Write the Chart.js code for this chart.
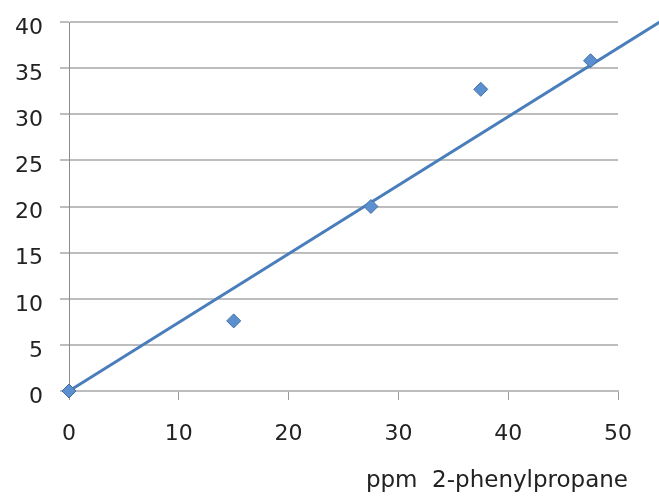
<!DOCTYPE html>
<html>
<head>
<meta charset="utf-8">
<script src="https://cdn.jsdelivr.net/npm/chart.js@4"></script>
<style>
  html, body { margin: 0; padding: 0; background: #fff; }
  #wrap { width: 659px; height: 498px; }
</style>
</head>
<body>
<div id="wrap"><canvas id="chart" width="659" height="498"></canvas></div>
<script>
// Data
const ppmValues = [0, 15, 27.5, 37.5, 47.5];
const signalValues = [0, 7.6, 20, 32.7, 35.8];
// Trendline end points (runs past the plot on the right)
const trendX = [0, 53.8];
const trendY = [0, 40];
const xTicks = [0, 10, 20, 30, 40, 50];
const yTicks = [0, 5, 10, 15, 20, 25, 30, 35, 40];
const xTitle = 'ppm  2-phenylpropane';

const blue = '#4a7ebb';
const gridGrey = '#bdbdbd';
const fontFamily = '"DejaVu Sans", sans-serif';

const points = ppmValues.map((x, i) => ({ x: x, y: signalValues[i] }));
const trend = trendX.map((x, i) => ({ x: x, y: trendY[i] }));

// x axis caption sits a little right of the plot's end, like the original
const axisCaption = {
  id: 'axisCaption',
  afterDraw(chart) {
    const ctx = chart.ctx;
    const xs = chart.scales.x;
    ctx.save();
    ctx.font = '23px ' + fontFamily;
    ctx.fillStyle = '#222';
    ctx.textAlign = 'right';
    ctx.textBaseline = 'alphabetic';
    ctx.fillText(xTitle, xs.right + 10, 487);
    ctx.restore();
  }
};

new Chart(document.getElementById('chart'), {
  type: 'scatter',
  data: {
    datasets: [{
      label: 'samples',
      data: points,
      pointStyle: 'rectRot',
      pointRadius: 7,
      pointHoverRadius: 7,
      backgroundColor: '#5b8fd0',
      borderColor: '#41709f',
      borderWidth: 1,
      clip: false,
      order: 1
    }, {
      label: 'trend',
      type: 'line',
      data: trend,
      showLine: true,
      pointRadius: 0,
      borderColor: blue,
      borderWidth: 3,
      fill: false,
      clip: false,
      order: 2
    }]
  },
  plugins: [axisCaption],
  options: {
    responsive: false,
    animation: false,
    layout: { padding: { top: 22, right: 41, left: 0, bottom: 0 } },
    plugins: {
      legend: { display: false },
      tooltip: { enabled: false }
    },
    scales: {
      x: {
        type: 'linear',
        min: 0,
        max: 50,
        afterBuildTicks: (axis) => { axis.ticks = xTicks.map(v => ({ value: v })); },
        afterFit: (axis) => {
          axis.height = 107;
          axis.paddingLeft = 0;
          axis.paddingRight = 0;
        },
        grid: {
          drawOnChartArea: false,
          drawTicks: true,
          tickLength: 9,
          color: '#9a9a9a',
          lineWidth: 1
        },
        border: { color: gridGrey, width: 2 },
        ticks: {
          padding: 21,
          color: '#222',
          font: { family: fontFamily, size: 22 }
        }
      },
      y: {
        type: 'linear',
        min: 0,
        max: 40,
        afterBuildTicks: (axis) => { axis.ticks = yTicks.map(v => ({ value: v })); },
        afterFit: (axis) => {
          axis.width = 69;
          axis.paddingTop = 0;
          axis.paddingBottom = 0;
        },
        grid: {
          color: gridGrey,
          lineWidth: 2,
          tickLength: 9
        },
        border: { color: '#8c8c8c', width: 1 },
        ticks: {
          padding: 17,
          color: '#222',
          // empty first line nudges the number a few px below its gridline
          callback: (v) => ['', String(v)],
          font: { family: fontFamily, size: 22, lineHeight: 0.55 }
        }
      }
    }
  }
});
</script>
</body>
</html>
